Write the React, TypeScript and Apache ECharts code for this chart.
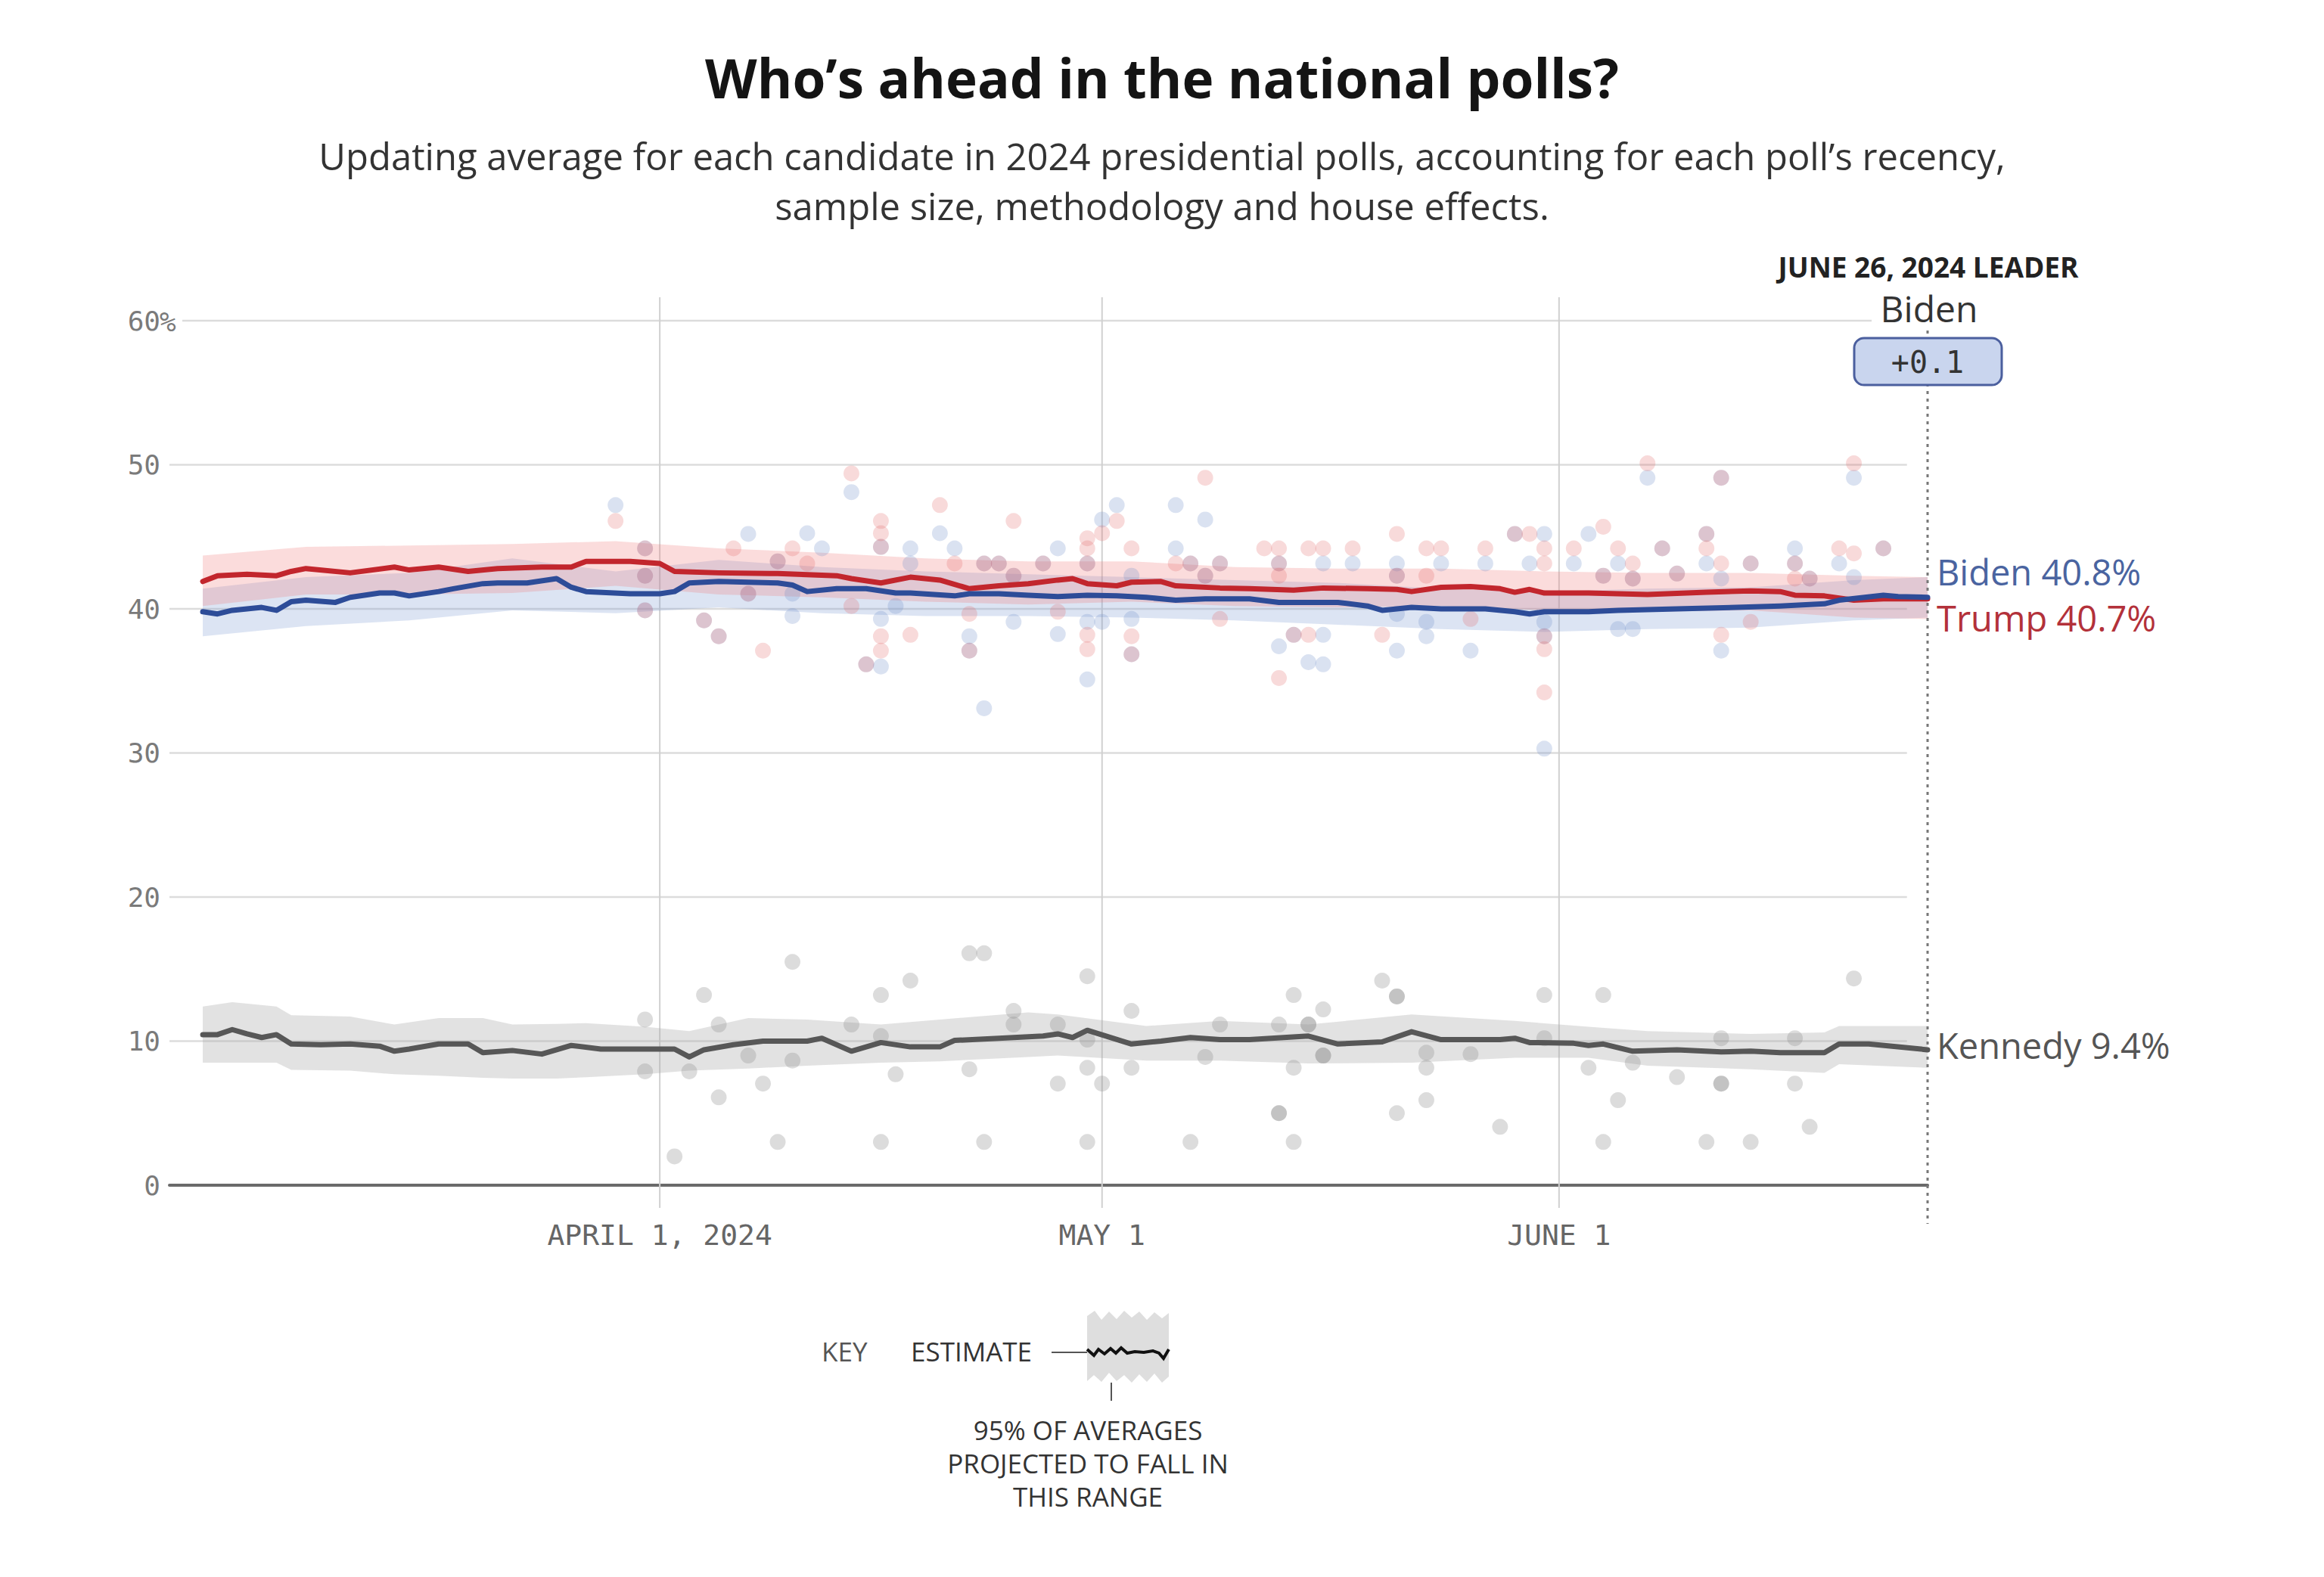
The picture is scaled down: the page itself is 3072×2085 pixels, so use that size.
import React, { useEffect, useRef } from "react";
import * as echarts from "echarts";

// ---------- DATA ----------
// Day offsets are days since 2024-03-01 (the first day of the averages).
const START_DATE = "2024-03-01";

const trumpDays = [0,1,3,5,6,7,10,13,14,16,18,20,23,25,26,29,31,32,35,39,43,44,46,48,50,52,54,56,58,59,60,62,63,65,66,69,71,74,76,79,81,82,84,86,88,89,90,91,94,98,102,105,107,108,110,112,114,117];
const trumpAvg = [41.9,42.3,42.4,42.3,42.6,42.8,42.5,42.9,42.7,42.9,42.6,42.8,42.9,42.9,43.3,43.3,43.15,42.6,42.5,42.45,42.3,42.1,41.8,42.2,42.0,41.4,41.6,41.75,42.0,42.1,41.75,41.6,41.85,41.9,41.6,41.45,41.4,41.3,41.45,41.4,41.35,41.2,41.5,41.55,41.4,41.15,41.35,41.1,41.1,41.0,41.15,41.25,41.2,40.95,40.9,40.6,40.7,40.7];

const bidenDays = [0,1,2,4,5,6,7,9,10,12,13,14,16,17,19,20,22,24,25,26,29,31,32,33,35,39,40,41,43,45,47,48,51,52,54,56,58,60,62,64,66,68,71,73,74,77,79,80,82,84,87,89,90,91,94,96,100,104,107,110,111,114,115,117];
const bidenAvg = [39.8,39.65,39.9,40.1,39.9,40.5,40.6,40.45,40.8,41.1,41.1,40.9,41.2,41.4,41.75,41.8,41.8,42.1,41.5,41.2,41.05,41.05,41.2,41.8,41.9,41.8,41.65,41.2,41.4,41.4,41.1,41.1,40.9,41.05,41.05,40.95,40.85,40.95,40.9,40.8,40.6,40.7,40.7,40.45,40.45,40.45,40.2,39.9,40.1,40.0,40.0,39.8,39.65,39.8,39.8,39.9,40.0,40.1,40.2,40.35,40.6,40.95,40.85,40.8];

const kennedyDays = [0,1,2,3,4,5,6,8,10,12,13,14,16,18,19,21,23,25,27,32,33,34,36,38,41,42,44,46,48,50,51,54,57,58,59,60,63,65,67,69,71,75,77,80,82,84,88,89,90,93,94,95,97,100,103,105,107,110,111,113,117];
const kennedyAvg = [10.45,10.45,10.8,10.5,10.25,10.45,9.8,9.75,9.8,9.65,9.3,9.45,9.8,9.8,9.2,9.35,9.1,9.7,9.45,9.45,8.9,9.4,9.75,10.0,10.0,10.2,9.3,9.9,9.6,9.6,10.05,10.2,10.35,10.5,10.25,10.75,9.8,10.0,10.25,10.1,10.1,10.35,9.8,9.95,10.65,10.1,10.1,10.2,9.9,9.85,9.7,9.8,9.3,9.4,9.25,9.3,9.2,9.2,9.8,9.8,9.4];

// 95% ranges
const bandDays = [0,7,14,21,28,35,42,49,56,63,70,77,84,91,98,105,112,117];
const trumpBandLow = [40.2,41.0,41.0,41.1,41.6,41.0,40.8,40.5,40.3,40.5,40.2,40.1,40.2,39.9,39.8,39.9,39.4,39.3];
const trumpBandHigh = [43.7,44.3,44.4,44.5,44.7,44.2,43.9,43.5,43.3,43.3,42.9,42.8,42.8,42.6,42.5,42.5,42.3,42.2];
const bidenBandLow = [38.1,38.8,39.2,39.9,39.7,40.1,39.7,39.5,39.5,39.4,39.2,38.9,38.6,38.4,38.6,38.7,39.2,39.4];
const bidenBandHigh = [41.4,42.2,42.5,43.5,42.6,43.4,42.9,42.6,42.4,42.2,42.0,41.8,41.4,41.2,41.4,41.5,42.0,42.2];
const kennedyBandDays = [0,2,5,6,10,13,16,19,21,24,26,30,33,37,41,46,50,56,58,64,69,75,82,89,94,98,105,110,111,117];
const kennedyBandHigh = [12.4,12.7,12.4,11.8,11.7,11.15,11.6,11.6,11.15,11.2,11.25,11.0,10.7,11.6,11.5,11.15,11.5,12.0,11.85,11.05,11.4,11.15,11.85,11.4,11.0,10.7,10.5,10.6,11.05,11.05];
const kennedyBandLow = [8.5,8.5,8.5,8.0,7.95,7.7,7.6,7.45,7.4,7.4,7.5,7.7,7.95,8.1,8.3,8.5,8.6,8.9,9.0,8.65,8.65,8.45,8.5,8.85,8.85,8.3,8.05,7.8,8.4,8.15];

// individual polls
const trumpPollDays = [28,30,30,30,34,35,36,37,38,39,40,41,44,44,46,46,46,46,46,45,48,50,51,52,52,53,54,55,55,57,58,
  60,60,60,60,60,61,62,63,63,63,66,67,68,68,69,69,72,73,73,73,73,74,75,75,76,78,80,81,81,83,83,84,86,87,89,90,91,91,91,91,91,93,95,95,96,97,97,98,99,100,102,102,103,103,103,105,105,108,108,109,111,112,112,114];
const trumpPollValues = [46.1,44.2,42.3,39.9,39.2,38.1,44.2,41.05,37.1,43.3,44.2,43.15,49.4,40.2,46.1,45.25,44.3,38.1,37.1,36.15,38.2,47.2,43.15,39.65,37.1,43.15,43.15,46.1,42.3,43.15,39.8,
  44.9,44.2,43.15,38.2,37.2,45.25,46.1,44.2,38.1,36.85,43.15,43.15,49.1,42.3,43.15,39.3,44.2,44.2,43.15,42.3,35.2,38.2,44.2,38.2,44.2,44.2,38.2,45.2,42.3,44.2,42.3,44.2,39.3,44.2,45.2,45.2,44.2,43.15,38.1,37.2,34.2,44.2,45.7,42.3,44.2,43.15,42.1,50.1,44.2,42.45,45.2,44.2,49.1,43.15,38.2,43.15,39.1,43.15,42.1,42.1,44.2,50.1,43.85,44.2];

const bidenPollDays = [28,30,30,30,34,35,37,37,39,40,40,41,42,44,46,46,46,45,48,48,47,50,51,52,52,53,53,54,55,55,57,58,58,
  60,60,60,61,61,62,63,63,63,66,66,67,68,68,69,73,73,74,75,76,76,76,78,81,81,81,81,83,83,84,86,87,89,90,91,91,91,91,93,94,95,96,96,97,97,98,99,100,102,102,103,103,103,105,108,108,109,111,112,112,114];
const bidenPollValues = [47.2,44.2,42.3,39.9,39.2,38.1,45.2,41.05,43.3,41.05,39.5,45.25,44.2,48.1,44.3,39.3,36.0,36.15,44.2,43.15,40.2,45.25,44.2,38.1,37.1,43.15,33.1,43.15,42.3,39.1,43.15,44.2,38.25,
  43.15,39.1,35.1,46.2,39.1,47.2,42.3,39.3,36.85,47.2,44.2,43.15,46.2,42.3,43.15,43.15,37.4,38.2,36.3,43.15,38.2,36.15,43.15,43.15,42.3,39.65,37.1,39.1,38.1,43.15,37.1,43.15,45.2,43.15,45.2,39.1,38.1,30.3,43.15,45.2,42.3,43.15,38.6,38.6,42.1,49.1,44.2,42.45,45.2,43.15,49.1,42.1,37.1,43.15,44.2,43.15,42.1,43.15,49.1,42.2,44.2];

const kennedyPollDays = [30,30,32,33,34,35,35,37,38,39,40,40,44,46,46,46,47,48,52,53,52,53,55,55,58,58,60,60,60,60,
  61,63,63,67,68,69,73,73,73,74,74,74,75,75,76,76,76,80,81,81,81,83,83,83,86,88,91,91,94,95,95,96,97,100,103,103,103,102,105,108,108,109,112];
const kennedyPollValues = [11.5,7.9,2.0,7.9,13.2,11.15,6.1,9.0,7.05,3.0,15.5,8.65,11.15,13.2,10.35,3.0,7.7,14.2,16.1,16.1,8.05,3.0,12.1,11.15,11.15,7.05,14.5,10.1,8.15,3.0,
  7.05,12.1,8.15,3.0,8.9,11.15,11.15,5.0,5.0,13.2,8.15,3.0,11.15,11.15,12.2,9.0,9.0,14.2,13.1,13.1,5.0,9.2,8.15,5.9,9.1,4.05,13.2,10.2,8.15,13.2,3.0,5.9,8.5,7.5,10.2,7.05,7.05,3.0,3.0,10.2,7.05,4.05,14.35];

// axis ticks
const yTicks = [0, 10, 20, 30, 40, 50, 60];
const yGridValues = [10, 20, 30, 40, 50, 60];
const xTickDates = ["2024-04-01", "2024-05-01", "2024-06-01"];
const xTickLabels = ["APRIL 1, 2024", "MAY 1", "JUNE 1"];
const LAST_DAY = 117; // June 26, 2024
const LEADER_DATE_LABEL = "JUNE 26, 2024 LEADER";

// ---------- HELPERS ----------
const DAY_MS = 86400000;
const parseDate = (s: string) => {
  const [y, m, d] = s.split("-").map(Number);
  return Date.UTC(y, m - 1, d);
};
const START = parseDate(START_DATE);
const toTime = (d: number) => START + d * DAY_MS;
const pairs = (days: number[], vals: number[]) => days.map((d, i) => [toTime(d), vals[i]]);

const SANS = '"Open Sans", "Noto Sans", Roboto, sans-serif';
const MONO = '"DejaVu Sans Mono", "Liberation Mono", monospace';

const X_MIN = toTime(-2.26);
const X_MAX = toTime(LAST_DAY);
const GRID_END = toTime(LAST_DAY - 1.4);

function bandSeries(name: string, days: number[], lo: number[], hi: number[], fill: string) {
  const pts = days.map((d, i) => [toTime(d), lo[i], hi[i]]);
  return {
    type: "custom",
    name,
    silent: true,
    data: pts,
    encode: { x: 0, y: [1, 2] },
    renderItem: (params: any, api: any) => {
      if (params.dataIndex !== 0) return { type: "group", children: [] };
      const upper = pts.map((p) => api.coord([p[0], p[2]]));
      const lower = pts.map((p) => api.coord([p[0], p[1]])).reverse();
      return {
        type: "polygon",
        shape: { points: upper.concat(lower) },
        style: { fill },
        silent: true,
      };
    },
  };
}

function pollSeries(name: string, days: number[], vals: number[], color: string) {
  return {
    type: "scatter",
    name,
    silent: true,
    symbol: "circle",
    symbolSize: 21,
    data: pairs(days, vals),
    itemStyle: { color, borderWidth: 0 },
  };
}

function lineSeries(name: string, days: number[], vals: number[], color: string, labelColor: string, offsetY: number) {
  const last = vals[vals.length - 1];
  return {
    type: "line",
    name,
    data: pairs(days, vals),
    showSymbol: false,
    symbol: "none",
    silent: true,
    lineStyle: { color, width: 7, join: "round", cap: "round" },
    endLabel: {
      show: true,
      formatter: () => `${name} ${last.toFixed(1)}%`,
      color: labelColor,
      fontSize: 47,
      lineHeight: 48,
      fontFamily: SANS,
      distance: 12,
      offset: [0, offsetY],
    },
  };
}

const centerText = (x: number, y: number, text: string, fontSize: number, fill: string, extra: any = {}) => ({
  type: "text",
  z: 100,
  x,
  y,
  style: { text, fontSize, fontFamily: SANS, fill, align: "center", textAlign: "center", verticalAlign: "middle", textVerticalAlign: "middle", ...extra },
});

const leftText = (x: number, y: number, text: string, fontSize: number, fill: string) => ({
  type: "text",
  z: 100,
  x,
  y,
  style: { text, fontSize, fontFamily: SANS, fill, align: "left", textAlign: "left", verticalAlign: "middle", textVerticalAlign: "middle" },
});

export default function App() {
  const ref = useRef<HTMLDivElement>(null);

  useEffect(() => {
    document.body.style.margin = "0";
    if (!ref.current) return;
    const chart = echarts.init(ref.current, null, { renderer: "svg" });

    const bidenLast = bidenAvg[bidenAvg.length - 1];
    const trumpLast = trumpAvg[trumpAvg.length - 1];
    const leader = bidenLast >= trumpLast ? "Biden" : "Trump";
    const margin = `+${Math.abs(bidenLast - trumpLast).toFixed(1)}`;

    const option: any = {
      animation: false,
      backgroundColor: "#ffffff",
      grid: { left: 224, right: 524, top: 424, bottom: 518, containLabel: false },
      xAxis: {
        type: "time",
        min: X_MIN,
        max: X_MAX,
        axisLine: { show: true, lineStyle: { color: "#6a6a6a", width: 4 } },
        axisTick: { show: false },
        axisLabel: { show: false },
        splitLine: { show: false },
      },
      yAxis: {
        type: "value",
        min: 0,
        max: 60,
        interval: 10,
        axisLine: { show: false },
        axisTick: { show: false },
        splitLine: { show: false },
        axisLabel: {
          show: true,
          margin: 12,
          fontSize: 36,
          fontFamily: MONO,
          color: "#7a7a7a",
          formatter: (v: number) => (yTicks.includes(v) ? String(v) : ""),
        },
      },
      graphic: [
        centerText(1536, 102, "Who’s ahead in the national polls?", 71, "#141414", { fontWeight: "bold" }),
        centerText(1536, 206, "Updating average for each candidate in 2024 presidential polls, accounting for each poll’s recency,", 49, "#333333"),
        centerText(1536, 272, "sample size, methodology and house effects.", 49, "#333333"),
        // leader annotation
        centerText(2549, 352, LEADER_DATE_LABEL, 37, "#222222", { fontWeight: "bold" }),
        { type: "rect", z: 99, shape: { x: 2474, y: 418, width: 52, height: 12 }, style: { fill: "#ffffff" } },
        centerText(2550, 407, leader, 48, "#333333"),
        { type: "rect", z: 100, shape: { x: 2451, y: 447, width: 195, height: 62, r: 13 }, style: { fill: "#c9d5ee", stroke: "#4b5f9e", lineWidth: 3 } },
        { type: "text", z: 101, x: 2548, y: 479, style: { text: margin, fontSize: 40, fontFamily: MONO, fill: "#333333", align: "center", textAlign: "center", verticalAlign: "middle", textVerticalAlign: "middle" } },
        // "%" after 60
        { type: "rect", z: 99, shape: { x: 213, y: 413, width: 28, height: 22 }, style: { fill: "#ffffff" } },
        { type: "text", z: 100, x: 211, y: 425, style: { text: "%", fontSize: 36, fontFamily: MONO, fill: "#7a7a7a", align: "left", textAlign: "left", verticalAlign: "middle", textVerticalAlign: "middle" } },
        // KEY legend
        leftText(1086, 1786, "KEY", 35, "#555555"),
        leftText(1204, 1786, "ESTIMATE", 35, "#333333"),
        { type: "line", z: 100, shape: { x1: 1390, y1: 1788, x2: 1437, y2: 1788 }, style: { stroke: "#555555", lineWidth: 2 } },
        {
          type: "polygon", z: 100,
          shape: { points: [[1437,1740],[1447,1733],[1456,1745],[1466,1734],[1476,1744],[1486,1733],[1496,1742],[1506,1734],[1516,1745],[1526,1735],[1536,1743],[1545,1736],[1545,1820],[1536,1828],[1526,1816],[1516,1827],[1506,1817],[1496,1828],[1486,1818],[1476,1826],[1466,1815],[1456,1827],[1446,1818],[1437,1826]] },
          style: { fill: "#dedede" },
        },
        {
          type: "polyline", z: 101,
          shape: { points: [[1437,1784],[1446,1792],[1452,1784],[1460,1790],[1468,1783],[1475,1789],[1482,1782],[1490,1789],[1500,1787],[1512,1788],[1524,1786],[1532,1789],[1538,1796],[1545,1784]] },
          style: { stroke: "#111111", lineWidth: 4, fill: null },
        },
        { type: "line", z: 100, shape: { x1: 1469, y1: 1828, x2: 1469, y2: 1852 }, style: { stroke: "#555555", lineWidth: 2 } },
        centerText(1438, 1890, "95% OF AVERAGES", 35, "#333333"),
        centerText(1438, 1934, "PROJECTED TO FALL IN", 35, "#333333"),
        centerText(1438, 1978, "THIS RANGE", 35, "#333333"),
      ],
      series: [
        // horizontal gridlines
        {
          type: "custom",
          name: "grid",
          silent: true,
          data: yGridValues.map((v) => [X_MIN, v]),
          renderItem: (params: any, api: any) => {
            const v = api.value(1);
            const a = api.coord([X_MIN, v]);
            const b = api.coord([GRID_END, v]);
            return { type: "line", shape: { x1: a[0], y1: a[1], x2: b[0], y2: b[1] }, style: { stroke: "#dcdcdc", lineWidth: 2.5 } };
          },
        },
        // month lines + labels
        {
          type: "custom",
          name: "months",
          silent: true,
          data: xTickDates.map((s) => [parseDate(s), 0]),
          renderItem: (params: any, api: any) => {
            const t = api.value(0);
            const top = api.coord([t, 60]);
            const bot = api.coord([t, 0]);
            return {
              type: "group",
              children: [
                { type: "line", shape: { x1: top[0], y1: top[1] - 31, x2: bot[0], y2: bot[1] + 30 }, style: { stroke: "#d0d0d0", lineWidth: 2 } },
                { type: "text", x: bot[0], y: bot[1] + 66, style: { text: xTickLabels[params.dataIndex], fontSize: 38, fontFamily: MONO, fill: "#666666", align: "center", textAlign: "center", verticalAlign: "middle", textVerticalAlign: "middle" } },
              ],
            };
          },
        },
        bandSeries("Kennedy range", kennedyBandDays, kennedyBandLow, kennedyBandHigh, "rgba(170,170,170,0.34)"),
        bandSeries("Biden range", bandDays, bidenBandLow, bidenBandHigh, "rgba(120,150,210,0.26)"),
        bandSeries("Trump range", bandDays, trumpBandLow, trumpBandHigh, "rgba(238,120,120,0.26)"),
        pollSeries("Kennedy polls", kennedyPollDays, kennedyPollValues, "rgba(140,140,140,0.38)"),
        pollSeries("Biden polls", bidenPollDays, bidenPollValues, "rgba(110,140,200,0.32)"),
        pollSeries("Trump polls", trumpPollDays, trumpPollValues, "rgba(225,100,100,0.3)"),
        lineSeries("Kennedy", kennedyDays, kennedyAvg, "#575757", "#555555", -6),
        lineSeries("Trump", trumpDays, trumpAvg, "#c2262d", "#b3313a", 25),
        lineSeries("Biden", bidenDays, bidenAvg, "#2d4c98", "#4a64a0", -34),
        // leader dotted line
        {
          type: "custom",
          name: "leader line",
          silent: true,
          z: 3,
          data: [[toTime(LAST_DAY), 0]],
          renderItem: (params: any, api: any) => {
            const t = api.value(0);
            const top = api.coord([t, 60]);
            const bot = api.coord([t, 0]);
            return { type: "line", shape: { x1: top[0], y1: top[1] + 13, x2: bot[0], y2: bot[1] + 51 }, style: { stroke: "#777777", lineWidth: 3, lineDash: [4, 6] } };
          },
        },
      ],
    };

    chart.setOption(option);
    return () => chart.dispose();
  }, []);

  return <div ref={ref} style={{ width: 3072, height: 2085, position: "absolute", left: 0, top: 0 }} />;
}
